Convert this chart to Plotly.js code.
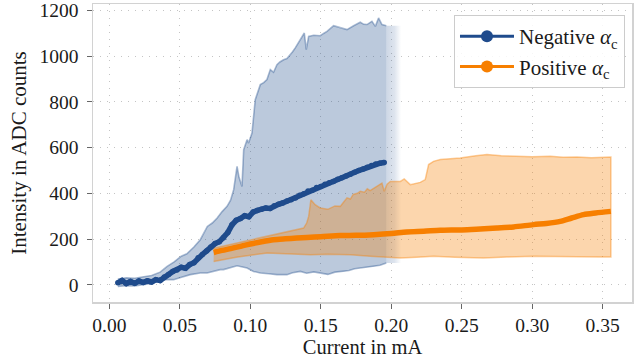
<!DOCTYPE html>
<html>
<head>
<meta charset="utf-8">
<script src="https://cdn.plot.ly/plotly-3.0.1.min.js"></script>
<style>html,body{margin:0;padding:0;background:#fff;}#chart{width:636px;height:358px;}</style>
</head>
<body>
<div id="chart"></div>
<script>
// ---- Negative alpha_c : mean curve ----
const negX = [0.006,0.009,0.012,0.015,0.018,0.021,0.024,0.027,0.030,0.033,0.036,0.039,0.042,0.045,0.048,0.051,0.054,0.057,0.060,0.063,0.066,0.069,0.072,0.075,0.078,0.081,0.084,0.087,0.090,0.093,0.096,0.099,0.102,0.105,0.108,0.111,0.114,0.117,0.120,0.123,0.126,0.129,0.132,0.135,0.138,0.141,0.144,0.147,0.150,0.153,0.156,0.159,0.162,0.165,0.168,0.171,0.174,0.177,0.180,0.183,0.186,0.189,0.192,0.195];
const negY = [8,18,5,14,6,16,10,17,12,22,18,34,45,58,64,76,72,88,96,118,132,148,165,180,188,205,228,262,282,290,302,298,318,325,330,336,334,346,352,358,366,372,380,392,398,410,414,426,430,440,446,452,462,468,476,484,492,500,506,514,522,528,532,535];

// ---- Negative alpha_c : band upper / lower ----
const negUpX = [0.006,0.012,0.018,0.024,0.030,0.036,0.041,0.046,0.051,0.055,0.060,0.0645,0.0675,0.0695,0.073,0.0765,0.080,0.0835,0.086,0.0882,0.0906,0.092,0.0941,0.0953,0.0977,0.0988,0.1012,0.1035,0.1071,0.1095,0.1118,0.1142,0.1165,0.1189,0.121,0.1236,0.126,0.1284,0.130,0.1319,0.1355,0.1383,0.1397,0.1414,0.145,0.1496,0.152,0.1544,0.1591,0.1638,0.1686,0.1733,0.178,0.1805,0.1828,0.1863,0.1887,0.191,0.1934,0.1965];
const negUpY = [25,30,28,35,40,55,80,100,125,135,165,197,230,255,270,292,320,343,370,416,518,470,430,591,635,620,664,810,876,885,898,942,930,963,975,985,990,1007,1020,1037,1073,1102,1029,1087,1092,1090,1100,1109,1134,1124,1117,1134,1149,1140,1139,1153,1131,1168,1139,1134];
const negLoX = [0.006,0.012,0.018,0.024,0.030,0.0385,0.0456,0.050,0.0574,0.0645,0.0693,0.0787,0.081,0.0906,0.0929,0.0977,0.1023,0.1071,0.1130,0.1189,0.126,0.1300,0.1355,0.140,0.1450,0.1496,0.155,0.160,0.1662,0.170,0.174,0.178,0.1875,0.192,0.1965];
const negLoY = [-8,-4,-6,0,5,22,22,30,44,51,51,66,66,83,80,73,58,51,48,44,44,52,58,50,56,51,45,55,58,62,70,73,80,85,95];

// ---- Positive alpha_c : mean curve ----
const posX = [0.074,0.080,0.086,0.093,0.100,0.108,0.1165,0.125,0.133,0.1402,0.150,0.1638,0.175,0.1875,0.200,0.2111,0.223,0.2348,0.250,0.2631,0.275,0.2868,0.3009,0.310,0.3199,0.328,0.3364,0.345,0.3558];
const posY = [141,150,158,168,178,188,197,201,204,207,210,215,216,219,224,231,234,238,240,244,248,253,263,268,277,292,307,314,321];

// ---- Positive alpha_c : band upper / lower ----
const posUpX = [0.074,0.085,0.100,0.112,0.1236,0.132,0.1378,0.140,0.1414,0.143,0.146,0.1496,0.155,0.160,0.1638,0.166,0.1686,0.171,0.173,0.176,0.178,0.181,0.183,0.185,0.1875,0.190,0.1934,0.195,0.197,0.1993,0.2064,0.2092,0.2135,0.2206,0.2241,0.2265,0.230,0.2348,0.2489,0.260,0.2679,0.278,0.2891,0.300,0.3128,0.322,0.3317,0.342,0.3558];
const posUpY = [160,175,197,212,226,240,248,270,299,372,350,336,330,345,343,360,380,375,395,400,409,405,420,412,423,430,445,409,440,452,452,463,438,448,460,526,540,548,555,565,570,565,562,560,562,558,559,556,559];
const posLoX = [0.074,0.090,0.1118,0.125,0.1426,0.155,0.1709,0.185,0.2064,0.218,0.230,0.245,0.2655,0.282,0.3009,0.3128,0.3246,0.338,0.3482,0.3558];
const posLoY = [102,120,139,135,131,133,131,125,117,120,124,120,117,121,124,122,124,122,121,121];

const xTicks = [0.00,0.05,0.10,0.15,0.20,0.25,0.30,0.35];
const yTicks = [0,200,400,600,800,1000,1200];

const BLUE = '#1f4b8c';
const ORANGE = '#f77f00';
const FONT = 'Liberation Serif';
const TXT = '#1a1a1a';

function band(xu, yu, xl, yl) {
  return { x: xu.concat(xl.slice().reverse()), y: yu.concat(yl.slice().reverse()) };
}
const negBand = band(negUpX, negUpY, negLoX, negLoY);
const posBand = band(posUpX, posUpY, posLoX, posLoY);

// fade-out continuation of the blue band past its last sample
const fadeW = 0.0105;
const nEnd = negUpX[negUpX.length - 1];
const fadeX = [nEnd, nEnd + fadeW, nEnd + fadeW, nEnd];
const fadeY = [negUpY[negUpY.length - 1], negUpY[negUpY.length - 1], negLoY[negLoY.length - 1], negLoY[negLoY.length - 1]];

const edgeBlue = { color: 'rgba(31,75,140,0.38)', width: 1.6 };
const traces = [
  { x: negBand.x, y: negBand.y, mode: 'none', fill: 'toself', fillcolor: 'rgba(31,75,140,0.3)',
    showlegend: false, hoverinfo: 'skip' },
  { x: negUpX, y: negUpY, mode: 'lines', line: edgeBlue, showlegend: false, hoverinfo: 'skip' },
  { x: negLoX, y: negLoY, mode: 'lines', line: edgeBlue, showlegend: false, hoverinfo: 'skip' },
  { x: fadeX, y: fadeY, mode: 'none', fill: 'toself',
    fillgradient: { type: 'horizontal', colorscale: [[0, 'rgba(31,75,140,0.22)'], [0.55, 'rgba(31,75,140,0.15)'], [1, 'rgba(31,75,140,0)']] },
    showlegend: false, hoverinfo: 'skip' },
  { x: posBand.x, y: posBand.y, mode: 'lines', fill: 'toself', fillcolor: 'rgba(247,127,0,0.32)',
    line: { color: 'rgba(247,127,0,0.4)', width: 1.5 }, showlegend: false, hoverinfo: 'skip' },
  { x: negX, y: negY, mode: 'lines+markers', line: { color: BLUE, width: 5.5 },
    marker: { color: BLUE, size: 5.5 }, showlegend: false },
  { x: posX, y: posY, mode: 'lines', line: { color: ORANGE, width: 5.5, shape: 'spline', smoothing: 0.8 }, showlegend: false },
  { x: [null], y: [null], mode: 'lines+markers', name: 'Negative <i>α</i><sub>c</sub>',
    line: { color: BLUE, width: 3 }, marker: { color: BLUE, size: 12 } },
  { x: [null], y: [null], mode: 'lines+markers', name: 'Positive <i>α</i><sub>c</sub>',
    line: { color: ORANGE, width: 3 }, marker: { color: ORANGE, size: 12 } }
];

const axisCommon = {
  showgrid: true, gridcolor: '#c4c4c4', gridwidth: 1, griddash: '1px,6px',
  zeroline: false, showline: true, mirror: true, linecolor: '#d2d2d2', linewidth: 1.5,
  ticks: 'outside', ticklen: 5, tickwidth: 1, tickcolor: '#666',
  ticklabeloverflow: 'allow',
  tickfont: { family: FONT, size: 19.5, color: TXT }
};

const layout = {
  width: 636, height: 358, autosize: false,
  margin: { l: 93, r: 4, t: 4, b: 56, pad: 0 },
  paper_bgcolor: '#fff', plot_bgcolor: '#fff',
  font: { family: FONT, size: 20, color: TXT },
  xaxis: Object.assign({}, axisCommon, {
    range: [-0.0116, 0.3708], tickvals: xTicks, tickformat: '.2f',
    title: { text: 'Current in mA', font: { family: FONT, size: 20.5, color: TXT }, standoff: 5 }
  }),
  yaxis: Object.assign({}, axisCommon, {
    range: [-75.8, 1229], tickvals: yTicks, tickformat: 'd', ticklabelstandoff: 4,
    title: { text: 'Intensity in ADC counts', font: { family: FONT, size: 21, color: TXT }, standoff: 7 }
  }),
  legend: {
    x: 0.987, xanchor: 'right', y: 0.963, yanchor: 'top',
    bgcolor: 'rgba(255,255,255,0.85)', bordercolor: '#cccccc', borderwidth: 1,
    font: { family: FONT, size: 21, color: TXT }, itemwidth: 54, tracegroupgap: 0
  },
  showlegend: true
};

Plotly.newPlot('chart', traces, layout, { staticPlot: true, displayModeBar: false });
</script>
</body>
</html>
